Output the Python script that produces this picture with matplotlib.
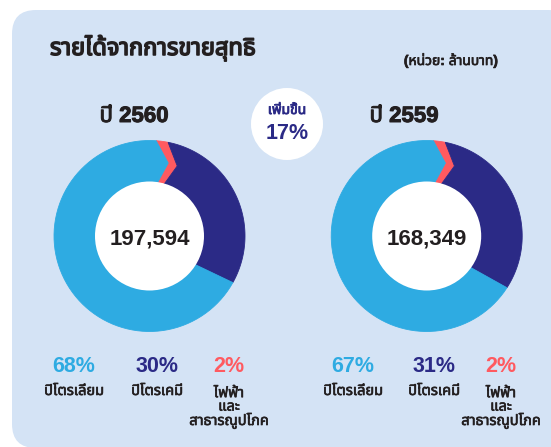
import numpy as np
import matplotlib
matplotlib.use('Agg')
import matplotlib.pyplot as plt
import matplotlib.patheffects as pe
from matplotlib import font_manager
from matplotlib.ft2font import FT2Font
from matplotlib.patches import FancyBboxPatch, Circle, Polygon

# --- data ---
title = 'รายได้จากการขายสุทธิ'
unit_note = '(หน่วย: ล้านบาท)'
years = ['ปี 2560', 'ปี 2559']
totals = [197594, 168349]
categories = ['ปิโตรเลียม', 'ปิโตรเคมี', 'ไฟฟ้า\nและ\nสาธารณูปโภค']
shares_2560 = [68, 30, 2]
shares_2559 = [67, 31, 2]
growth_label = 'เพิ่มขึ้น'
growth_pct = 17

# --- style ---
COLORS = ['#2eabe2', '#2b2a86', '#ff5a60']
PANEL = '#d4e3f5'
TEXT = '#231f20'
NAVY = '#2b2a86'
R_OUT, R_HOLE = 94.5, 54.5
CENTERS = [(149.5, 236), (426.7, 236)]
LABEL_X = [[74, 157, 229], [353, 434, 501]]
YEAR_X = [134, 404]
START_ANGLE = 86
LINE_STEP = 15


def pick_thai_family():
    names = {f.name for f in font_manager.fontManager.ttflist}
    for pref in ['Noto Sans Thai', 'Noto Sans Thai UI', 'Noto Sans Thai Looped',
                 'Loma', 'Garuda', 'Waree', 'Tlwg Typo', 'Norasi']:
        if pref in names:
            return pref
    for f in font_manager.fontManager.ttflist:
        try:
            if ord('ก') in FT2Font(f.fname).get_charmap():
                return f.name
        except Exception:
            pass
    return 'DejaVu Sans'


names = {f.name for f in font_manager.fontManager.ttflist}
THAI = pick_thai_family()
LATIN = 'Liberation Sans' if 'Liberation Sans' in names else 'DejaVu Sans'
MIXED = [LATIN, THAI, 'DejaVu Sans']


def heavy(color, w):
    # the Thai face has no bold cut here, so thicken the strokes a little
    return [pe.withStroke(linewidth=w, foreground=color)]


def pt(cx, cy, r, ang):
    t = np.radians(ang)
    return np.array([cx + r * np.cos(t), cy - r * np.sin(t)])


def boundary(cx, cy, ang, chevron):
    """points along a segment edge, outer -> inner"""
    skew = 4 if chevron else 3
    outer = pt(cx, cy, R_OUT + 1, ang)
    inner = pt(cx, cy, R_HOLE - 2, ang - skew)
    if not chevron:
        return [outer, inner], ang, ang - skew
    mid_ang = ang - skew / 2
    t = np.radians(mid_ang)
    tip = pt(cx, cy, (R_OUT + R_HOLE) / 2, mid_ang) + 11 * np.array([np.sin(t), np.cos(t)])
    return [outer, tip, inner], ang, ang - skew


def draw_donut(ax, cx, cy, shares, total):
    order = [2, 1, 0]  # clockwise from the top: utilities, petrochem, petroleum
    angs = [START_ANGLE]
    for i in order:
        angs.append(angs[-1] - 360 * shares[i] / sum(shares))
    n = len(order)
    small = order.index(2)
    edges = []
    for k in range(n + 1):
        chev = small in ((k - 1) % n, k % n)
        edges.append(boundary(cx, cy, angs[k], chev))
    for k, i in enumerate(order):
        b0, a0o, a0i = edges[k]
        b1, a1o, a1i = edges[k + 1]
        outer_arc = [pt(cx, cy, R_OUT + 1, a) for a in np.linspace(a0o, a1o, 80)]
        inner_arc = [pt(cx, cy, R_HOLE - 2, a) for a in np.linspace(a1i, a0i, 60)]
        pts = outer_arc + b1[1:] + inner_arc + b0[::-1][1:-1]
        ax.add_patch(Polygon(np.array(pts), closed=True, facecolor=COLORS[i],
                             edgecolor=COLORS[i], lw=0.6, zorder=2))
    ax.add_patch(Circle((cx, cy), R_HOLE, facecolor='white', edgecolor='none', zorder=3))
    ax.text(cx, cy + 8, f'{total:,}', family=LATIN, weight='bold', fontsize=16,
            color=TEXT, ha='center', va='baseline', zorder=4)


fig = plt.figure(figsize=(5.51, 4.47), dpi=100)
fig.patch.set_facecolor('white')
ax = fig.add_axes([0, 0, 1, 1])
ax.set_xlim(0, 551)
ax.set_ylim(447, 0)
ax.axis('off')

ax.add_patch(FancyBboxPatch((12, 10), 560, 438, boxstyle='round,pad=0,rounding_size=24',
                            facecolor=PANEL, edgecolor='none', zorder=0))

ax.text(50, 55, title, family=MIXED, weight='bold', fontsize=17, color=TEXT,
        ha='left', va='baseline', path_effects=heavy(TEXT, 1.1))
ax.text(498, 65, unit_note, family=MIXED, weight='bold', fontsize=10, color=TEXT,
        ha='right', va='baseline', path_effects=heavy(TEXT, 0.5))

# growth bubble
ax.add_patch(Circle((287, 124), 36, facecolor='white', edgecolor='none', zorder=1))
ax.text(287, 114, growth_label, family=MIXED, weight='bold', fontsize=10, color=NAVY,
        ha='center', va='baseline', zorder=2, path_effects=heavy(NAVY, 0.6))
ax.text(287, 139, f'{growth_pct}%', family=MIXED, weight='bold', fontsize=15.5, color=NAVY,
        ha='center', va='baseline', zorder=2)

for d, shares in enumerate([shares_2560, shares_2559]):
    cx, cy = CENTERS[d]
    ax.text(YEAR_X[d], 122, years[d], family=MIXED, weight='bold', fontsize=16,
            color=TEXT, ha='center', va='baseline', path_effects=heavy(TEXT, 0.7))
    draw_donut(ax, cx, cy, shares, totals[d])
    for i, cat in enumerate(categories):
        x = LABEL_X[d][i]
        ax.text(x, 372, f'{shares[i]}%', family=MIXED, weight='bold', fontsize=15.5,
                color=COLORS[i], ha='center', va='baseline')
        # va='baseline' anchors the bottom line, so push multi-line labels down
        n_extra = cat.count('\n')
        ax.text(x, 395 + n_extra * LINE_STEP, cat, family=MIXED, fontsize=10.5, color=TEXT,
                ha='center', va='baseline', multialignment='center', linespacing=0.95,
                path_effects=heavy(TEXT, 0.45))

fig.savefig('out.png', dpi=100, facecolor='white')
